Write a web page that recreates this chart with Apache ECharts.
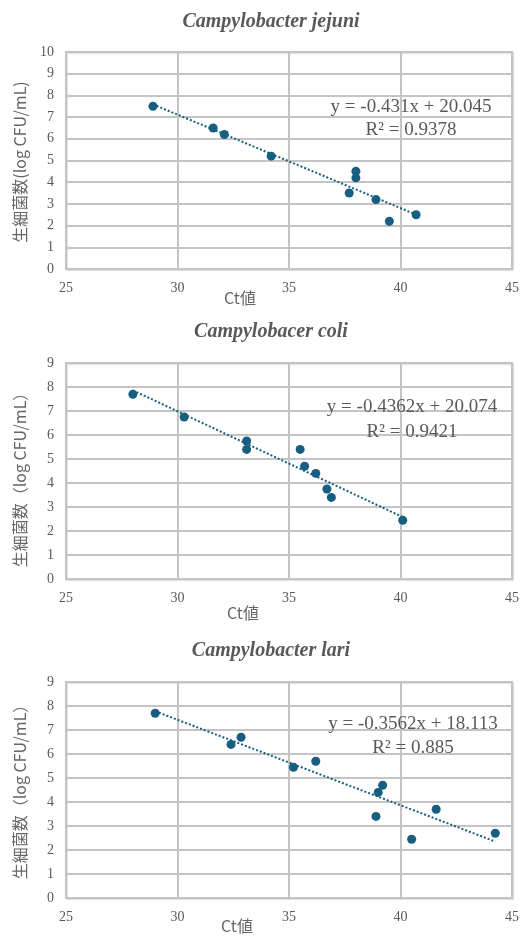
<!DOCTYPE html>
<html>
<head>
<meta charset="utf-8">
<script src="https://cdn.jsdelivr.net/npm/echarts@6/dist/echarts.min.js"></script>
<style>
html,body{margin:0;padding:0;background:#fff;}
#main{width:531px;height:936px;}
</style>
</head>
<body>
<div id="main"></div>
<script>
// ---- data ----
const titles = ['Campylobacter jejuni', 'Campylobacer coli', 'Campylobacter lari'];
const yNames = ['生細菌数(log CFU/mL)', '生細菌数（log CFU/mL）', '生細菌数（log CFU/mL）'];
const xName = 'Ct値';
const xTicks = [25, 30, 35, 40, 45];
const yMaxes = [10, 9, 9];

const jejuniX = [28.9, 31.6, 32.1, 34.2, 38.0, 38.0, 37.7, 38.9, 39.5, 40.7];
const jejuniY = [7.5, 6.5, 6.2, 5.2, 4.5, 4.2, 3.5, 3.2, 2.2, 2.5];

const coliX = [28.0, 30.3, 33.1, 33.1, 35.5, 35.7, 36.2, 36.7, 36.9, 40.1];
const coliY = [7.7, 6.75, 5.75, 5.4, 5.4, 4.7, 4.4, 3.75, 3.4, 2.45];

const lariX = [29.0, 32.4, 32.85, 35.2, 36.2, 39.2, 39.0, 38.9, 41.6, 40.5, 44.25];
const lariY = [7.7, 6.4, 6.7, 5.45, 5.7, 4.7, 4.4, 3.4, 3.7, 2.45, 2.7];

// trendline coefficients (from the equations shown on the chart)
const slopes = [-0.431, -0.4362, -0.3562];
const intercepts = [20.045, 20.074, 18.113];
const eqTexts = ['y = -0.431x + 20.045', 'y = -0.4362x + 20.074', 'y = -0.3562x + 18.113'];
const r2Texts = ['R² = 0.9378', 'R² = 0.9421', 'R² = 0.885'];

// ---- layout ----
const xsAll = [jejuniX, coliX, lariX];
const ysAll = [jejuniY, coliY, lariY];
const grids = [
  {left: 66, top: 52, width: 446, height: 217},
  {left: 66, top: 363, width: 446, height: 216},
  {left: 66, top: 682, width: 446, height: 216}
];
const titleY = [22, 332, 651];
const xNamePos = [[240, 298], [243, 613], [237, 926]];
const yNameY = [162, 476, 788];
const eqPos = [[411, 107, 130], [412, 407, 432], [413, 724, 748]];

const gray = '#595959';
const gridCol = '#c4c4c4';
const markCol = '#175e80';
const serif = '"Liberation Serif", serif';

const option = {
  backgroundColor: '#fff',
  animation: false,
  textStyle: {fontFamily: serif},
  grid: grids.map(g => Object.assign({
    show: true, borderColor: gridCol, borderWidth: 2, backgroundColor: '#fff',
    shadowColor: 'rgba(0,0,0,0.12)', shadowBlur: 1, shadowOffsetX: 1, shadowOffsetY: 1
  }, g)),
  xAxis: grids.map((g, i) => ({
    type: 'value', gridIndex: i, min: xTicks[0], max: xTicks[xTicks.length - 1], interval: 5,
    axisLine: {show: true, lineStyle: {color: gridCol, width: 2}},
    axisTick: {show: false},
    splitLine: {show: true, lineStyle: {color: gridCol, width: 2}},
    axisLabel: {color: gray, fontFamily: serif, fontSize: 14, margin: 12}
  })),
  yAxis: grids.map((g, i) => ({
    type: 'value', gridIndex: i, min: 0, max: yMaxes[i], interval: 1,
    axisLine: {show: true, lineStyle: {color: gridCol, width: 2}},
    axisTick: {show: false},
    splitLine: {show: true, lineStyle: {color: gridCol, width: 2}},
    axisLabel: {color: gray, fontFamily: serif, fontSize: 14, margin: 12}
  })),
  series: [],
  graphic: []
};

xsAll.forEach((xs, i) => {
  const ys = ysAll[i];
  option.series.push({
    type: 'scatter', xAxisIndex: i, yAxisIndex: i,
    data: xs.map((x, k) => [x, ys[k]]),
    symbol: 'circle', symbolSize: 9,
    itemStyle: {color: markCol, opacity: 1},
    z: 3
  });
  const x0 = Math.min(...xs), x1 = Math.max(...xs);
  option.series.push({
    type: 'line', xAxisIndex: i, yAxisIndex: i,
    data: [[x0, slopes[i] * x0 + intercepts[i]], [x1, slopes[i] * x1 + intercepts[i]]],
    symbol: 'none',
    lineStyle: {color: markCol, width: 2, type: [2, 2]},
    z: 2
  });
  option.graphic.push({
    type: 'text', x: 271, y: titleY[i],
    style: {text: titles[i], fill: gray, font: 'italic bold 20px "Liberation Serif"', textAlign: 'center', textVerticalAlign: 'middle'}
  });
  option.graphic.push({
    type: 'text', x: xNamePos[i][0], y: xNamePos[i][1],
    style: {text: xName, fill: '#666666', font: '16px "Noto Sans CJK JP"', textAlign: 'center', textVerticalAlign: 'middle'}
  });
  option.graphic.push({
    type: 'text', x: 20, y: yNameY[i], rotation: Math.PI / 2,
    style: {text: yNames[i], fill: '#666666', font: '16px "Noto Sans CJK JP"', textAlign: 'center', textVerticalAlign: 'middle'}
  });
  option.graphic.push({
    type: 'text', x: eqPos[i][0], y: eqPos[i][1], z: 10,
    style: {text: eqTexts[i], fill: gray, font: '19px "Liberation Serif"', textAlign: 'center', textVerticalAlign: 'middle'}
  });
  option.graphic.push({
    type: 'text', x: eqPos[i][0], y: eqPos[i][2], z: 10,
    style: {text: r2Texts[i], fill: gray, font: '19px "Liberation Serif"', textAlign: 'center', textVerticalAlign: 'middle'}
  });
});

const chart = echarts.init(document.getElementById('main'), null, {renderer: 'canvas', width: 531, height: 936});
chart.setOption(option);
</script>
</body>
</html>
